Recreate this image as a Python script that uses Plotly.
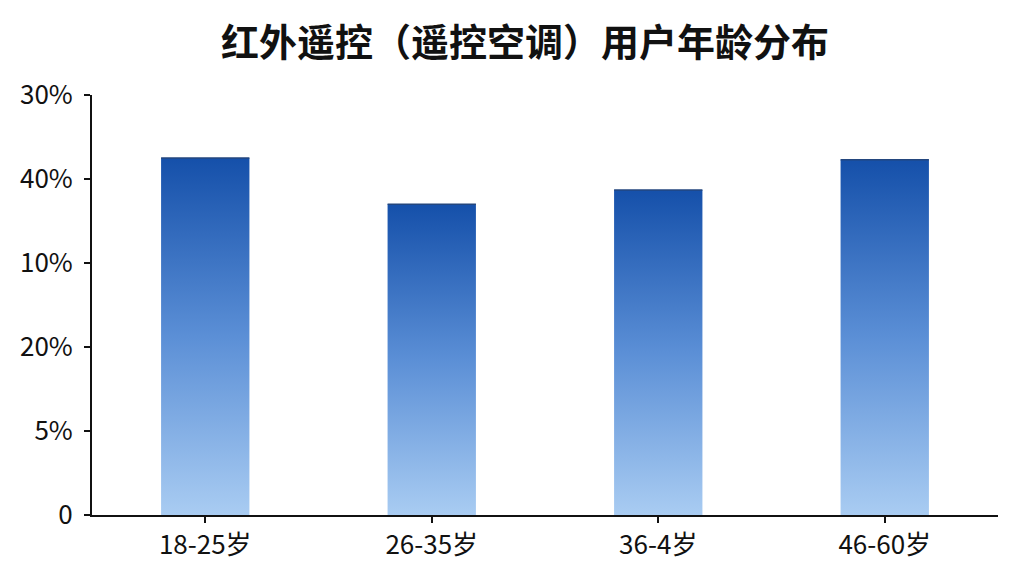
"""红外遥控用户年龄分布 — 渐变柱状图"""

import plotly.graph_objects as go

categories = ['18-25岁', '26-35岁', '36-4岁', '46-60岁']
# 柱高(以刻度格为单位读取)
values = [4.25, 3.70, 3.87, 4.23]
tick_vals = [0, 1, 2, 3, 4, 5]
tick_text = ['0', '5%', '20%', '10%', '40%', '30%']

BAR_W = 0.39

fig = go.Figure()

for i, v in enumerate(values):
    x0, x1 = i - BAR_W / 2, i + BAR_W / 2
    fig.add_trace(go.Scatter(
        x=[x0, x1, x1, x0, x0],
        y=[0, 0, v, v, 0],
        mode='lines',
        fill='toself',
        fillgradient=dict(
            type='vertical',
            colorscale=[[0, '#a9ccf2'], [0.5, '#5b8fd6'], [1, '#1550aa']],
        ),
        line=dict(width=0),
        showlegend=False,
        hoverinfo='skip',
    ))
    # 顶部深色边
    fig.add_trace(go.Scatter(
        x=[x0, x1], y=[v, v], mode='lines',
        line=dict(color='#23467e', width=1.5),
        showlegend=False, hoverinfo='skip',
    ))

fig.update_layout(
    title=dict(text='<b>红外遥控（遥控空调）用户年龄分布</b>', x=0.505, y=0.94,
               xanchor='center', yanchor='middle',
               font=dict(size=38, color='#111111', family='Noto Sans CJK SC')),
    xaxis=dict(
        range=[-0.5, 3.5],
        tickvals=list(range(len(categories))),
        ticktext=categories,
        showgrid=False, zeroline=False,
        showline=True, linecolor='#111111', linewidth=2,
        ticks='outside', ticklen=6, tickwidth=2, tickcolor='#111111',
        tickfont=dict(size=26, color='#111111'),
    ),
    yaxis=dict(
        range=[0, 5],
        tickvals=tick_vals,
        ticktext=tick_text,
        showgrid=False, zeroline=False,
        showline=True, linecolor='#111111', linewidth=2,
        ticks='outside', ticklen=6, tickwidth=2, tickcolor='#111111',
        ticklabelstandoff=6,
        tickfont=dict(size=26, color='#111111'),
    ),
    plot_bgcolor='white',
    paper_bgcolor='white',
    margin=dict(l=84, r=34, t=87, b=69),
    width=1024,
    height=576,
    font=dict(family='Noto Sans CJK SC'),
)

fig.write_html('out.html')
